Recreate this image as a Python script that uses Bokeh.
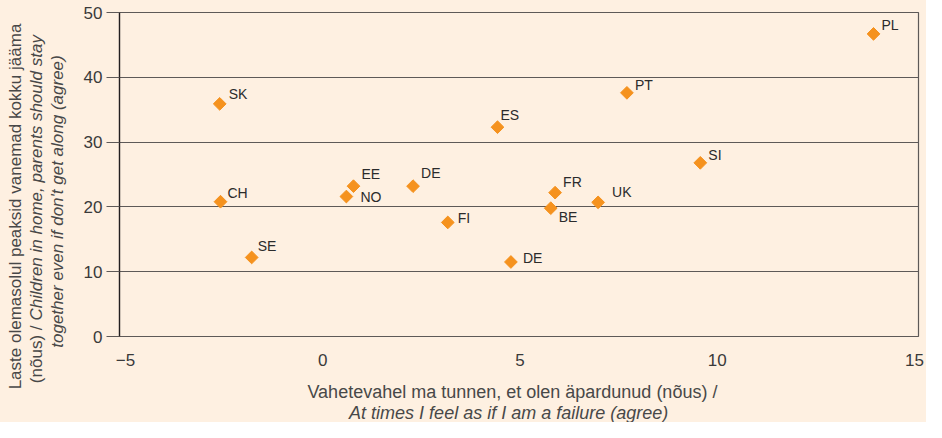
import math
from bokeh.plotting import figure
from bokeh.layouts import row, column
from bokeh.models import Range1d, ColumnDataSource, FixedTicker
from bokeh.core.properties import value
from bokeh.embed import file_html
from bokeh.resources import INLINE

countries = ["PL", "PT", "ES", "SI", "FR", "BE", "UK", "DE", "SK", "CH", "SE", "EE", "NO", "DE", "FI"]
failure_agree = [13.96, 7.71, 4.43, 9.57, 5.89, 5.78, 6.98, 4.77, -2.61, -2.59, -1.80, 0.78, 0.60, 2.29, 3.17]
stay_together_agree = [46.7, 37.6, 32.3, 26.8, 22.2, 19.8, 20.7, 11.5, 35.9, 20.8, 12.2, 23.2, 21.6, 23.2, 17.6]
x_ticks = [-5, 0, 5, 10, 15]
y_ticks = [0, 10, 20, 30, 40, 50]

x_title = ["Vahetevahel ma tunnen, et olen äpardunud (nõus) /",
           "At times I feel as if I am a failure (agree)"]
y_title_1 = "Laste olemasolul peaksid vanemad kokku jääma"
y_title_2a = "(nõus) /"
y_title_2b = "Children in home, parents should stay"
y_title_3 = "together even if don't get along (agree)"

# label placement (pixel offsets from the marker)
label_dx = [8, 8, 3, 8, 8, 8, 14, 12, 9, 7, 6, 8, 14, 8, 10]
label_dy = [-9, -8, -12, -8, -11, 9, -10, -4, -10, -9, -11, -12, 0, -13, -4]

BG = "#FEF0E1"
GRID = "#5E5957"
ORANGE = "#F5921E"
TXT = "#2B2B2B"
TITLE_C = "#484848"
FONT = "Liberation Sans"

W, H = 926, 422
YT_W = 76          # width of the strip holding the y-axis title
XT_H = 50          # height of the strip holding the x-axis title
MW, MH = W - YT_W, H - XT_H

main = figure(width=MW, height=MH, output_backend="svg", toolbar_location=None,
              x_range=Range1d(-5.15, 15.1), y_range=Range1d(0, 50),
              min_border_left=119 - YT_W, min_border_right=8, min_border_top=12,
              min_border_bottom=MH - 336)
main.background_fill_color = BG
main.border_fill_color = BG
main.outline_line_color = GRID
main.outline_line_width = 1.2

main.xgrid.grid_line_color = None
main.ygrid.grid_line_color = GRID
main.ygrid.grid_line_width = 1.2
main.ygrid.ticker = FixedTicker(ticks=y_ticks)

main.xaxis.ticker = FixedTicker(ticks=x_ticks)
main.xaxis.axis_line_color = None
main.xaxis.major_tick_line_color = None
main.xaxis.minor_tick_line_color = None
main.xaxis.major_label_standoff = 11
main.xaxis.major_label_text_font = FONT
main.xaxis.major_label_text_font_size = "17px"
main.xaxis.major_label_text_color = "#3A3A3A"

main.yaxis.ticker = FixedTicker(ticks=y_ticks)
main.yaxis.axis_line_color = "#231F20"
main.yaxis.axis_line_width = 1.3
main.yaxis.major_tick_line_color = GRID
main.yaxis.major_tick_in = 0
main.yaxis.major_tick_out = 13
main.yaxis.minor_tick_line_color = None
main.yaxis.major_label_standoff = 4
main.yaxis.major_label_text_font = FONT
main.yaxis.major_label_text_font_size = "17px"
main.yaxis.major_label_text_color = "#3A3A3A"

src = ColumnDataSource(dict(x=failure_agree, y=stay_together_agree, t=countries,
                            dx=label_dx, dy=label_dy))
main.scatter("x", "y", source=src, marker="square", angle=math.pi / 4, size=9,
             fill_color=ORANGE, line_color=ORANGE)
main.text("x", "y", text="t", source=src, x_offset="dx", y_offset="dy",
          text_font=value(FONT), text_font_size="14px", text_color=TXT,
          text_align="left", text_baseline="middle")


def strip(w, h):
    f = figure(width=w, height=h, output_backend="svg", toolbar_location=None,
               x_range=Range1d(0, w), y_range=Range1d(0, h),
               x_axis_location=None, y_axis_location=None,
               min_border=0, min_border_left=0, min_border_right=0,
               min_border_top=0, min_border_bottom=0)
    f.grid.grid_line_color = None
    f.outline_line_color = None
    f.background_fill_color = BG
    f.border_fill_color = BG
    return f


def put(f, text, x, y, size, align="center", style="normal", angle=0.0):
    f.text(x=[x], y=[y], text=[text], angle=angle, text_font=value(FONT),
           text_font_size=size, text_font_style=style, text_color=TITLE_C,
           text_align=align, text_baseline="middle")


# y-axis title strip: full canvas height, coordinates in pixels, y up
yt = strip(YT_W, H)
A = math.pi / 2
put(yt, y_title_1, 15, H - 206, "17px", angle=A)
put(yt, y_title_2a, 36, H - 325, "17px", align="right", angle=A)
put(yt, y_title_2b, 36, H - 320, "17px", align="left", style="italic", angle=A)
put(yt, y_title_3, 57, H - 201, "17px", style="italic", angle=A)

# x-axis title strip, under the plot
xt = strip(MW, XT_H)
put(xt, x_title[0], 494 - YT_W, XT_H - (391 - MH), "18px")
put(xt, x_title[1], 490 - YT_W, XT_H - (412 - MH), "18px", style="italic")

right = column(main, xt, spacing=0, styles={"background-color": BG})
layout = row(yt, right, spacing=0, styles={"background-color": BG})
open("out.html", "w").write(file_html(layout, INLINE))
